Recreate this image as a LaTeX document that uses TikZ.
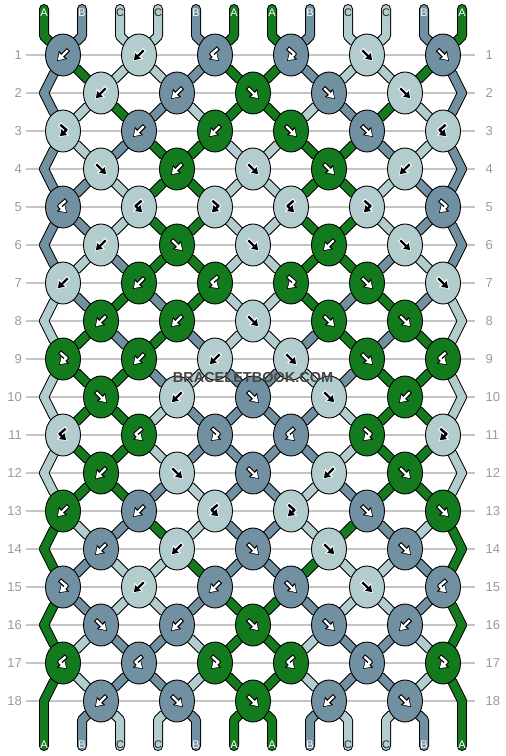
\documentclass[tikz,border=0pt]{standalone}
\usepackage{fontspec}
\setmainfont{Liberation Sans}
\usetikzlibrary{shapes.geometric,arrows.meta}

\definecolor{colA}{HTML}{137A1D}
\definecolor{colB}{HTML}{7190A1}
\definecolor{colC}{HTML}{B3CDCE}
\colorlet{fgA}{white}\colorlet{fgB}{white}\colorlet{fgC}{black}
\colorlet{rimA}{black}\colorlet{rimB}{black}\colorlet{rimC}{white}
\colorlet{txtA}{white}\colorlet{txtB}{white}\colorlet{txtC}{black!85}
\definecolor{rulegray}{HTML}{C4C4C4}
\definecolor{numgray}{HTML}{9A9A9A}
\definecolor{brandgray}{HTML}{464646}

\pgfdeclarelayer{back}
\pgfdeclarelayer{strands}
\pgfsetlayers{back,strands,main}

% knot symbols
\newcommand\turnf{(-5.5,-5.5) -- (6,6)}
\newcommand\turnb{(5.5,-5.5) -- (-6,6)}
\newcommand\turnfb{(3.5,-7) -- (-3.5,-1) -- (4,6)}
\newcommand\turnbf{(-3.5,-7) -- (3.5,-1) -- (-4,6)}

% every strand, row by row
\newcommand\drawstrands[1]{%
  \foreach \c [count=\p] in {A,B,C,C,B,A,A,B,C,C,B,A}
    \draw[#1=\c] (t-\p) -- ++(0,27) -- (p-1-\p);
  \foreach \rr/\strs in {
      1/{B,A,C,C,B,A,A,B,C,C,A,B},  2/{B,C,A,B,C,A,A,C,B,A,C,B},
      3/{B,C,B,A,A,C,C,A,A,B,C,B},  4/{B,B,C,A,A,C,C,A,A,C,B,B},
      5/{B,B,C,A,A,C,C,A,A,C,B,B},  6/{B,C,B,A,A,C,C,A,A,B,C,B},
      7/{C,B,A,B,A,C,C,A,B,A,B,C},  8/{C,A,B,A,B,C,C,B,A,B,A,C},
      9/{C,A,A,B,C,B,B,C,B,A,A,C}, 10/{C,A,A,C,B,B,B,B,C,A,A,C},
     11/{C,A,A,C,B,B,B,B,C,A,A,C}, 12/{C,A,A,B,C,B,B,C,B,A,A,C},
     13/{A,C,B,A,C,B,B,C,A,B,C,A}, 14/{A,B,C,C,A,B,B,A,C,C,B,A},
     15/{A,B,C,C,B,A,A,B,C,C,B,A}, 16/{A,C,B,B,C,A,A,C,B,B,C,A},
     17/{A,C,B,B,C,A,A,C,B,B,C,A}}{
    \pgfmathtruncatemacro\rn{\rr+1}
    \foreach \c [count=\p] in \strs
      \draw[#1=\c] (p-\rr-\p) -- (p-\rn-\p);
  }
  \foreach \c [count=\p] in {A,B,C,C,B,A,A,B,C,C,B,A}
    \draw[#1=\c] (b-\p) -- ++(0,-26) -- (p-18-\p);
}

\tikzset{
  knot/.style={ellipse, draw=black, line width=0.9pt, fill=col#1,
    minimum width=35pt, minimum height=42pt, inner sep=0pt},
  arrow rim/.style={draw=rim#1, line width=4.6pt, line join=round,
    -{Triangle[length=8.5pt,width=11pt]}},
  arrow core/.style={draw=fg#1, line width=2.4pt, line join=round,
    shorten <=1.1pt, shorten >=1.2pt, -{Triangle[length=6pt,width=7.6pt]}},
  strand rim/.style={draw=black, line width=10pt, line cap=round, line join=round},
  strand core/.style={draw=col#1, line width=8pt, line cap=round, line join=round},
  lbl/.style={text=txt#1, font=\fontsize{11}{11}\selectfont, inner sep=0pt},
  rownum/.style={text=numgray, font=\fontsize{13}{13}\selectfont, inner ysep=0pt},
  rowline/.style={draw=rulegray, line width=1.3pt},
  brand/.style={text=brandgray, font=\fontsize{14.5}{14.5}\selectfont\bfseries,
    inner sep=1pt}
}

\begin{document}
\begin{tikzpicture}[x=1pt,y=-1pt]
  \useasboundingbox (0,0) rectangle (506,756);

  % row rules and numbers
  \begin{pgfonlayer}{back}
    \foreach \rr in {1,...,18}{
      \pgfmathsetmacro\y{55+38*(\rr-1)}
      \node[rownum, anchor=east, inner xsep=4pt] (nl-\rr) at (26,\y) {\rr};
      \node[rownum, anchor=west, inner xsep=10.5pt] (nr-\rr) at (475,\y) {\rr};
      \draw[rowline] (nl-\rr) -- (nr-\rr);
    }
  \end{pgfonlayer}

  % strand ends
  \foreach \c [count=\p] in {A,B,C,C,B,A,A,B,C,C,B,A}{
    \pgfmathsetmacro\x{44+38*(\p-1)}
    \coordinate (t-\p) at (\x,9);
    \coordinate (b-\p) at (\x,746);
    \node[lbl=\c] (lt-\p) at (\x,12.5) {\c};
    \node[lbl=\c] (lb-\p) at (\x,744.5) {\c};
  }

  % knots: colour/type
  \foreach \rr/\row in {
      1/{B/b,C/b,B/fb,B/bf,C/f,B/f},    2/{C/b,B/b,A/f,B/f,C/f},
      3/{C/bf,B/b,A/b,A/f,B/f,C/fb},    4/{C/f,A/b,C/f,A/f,C/b},
      5/{B/fb,C/fb,C/bf,C/fb,C/bf,B/bf}, 6/{C/b,A/f,C/f,A/b,C/f},
      7/{C/b,A/b,A/fb,A/bf,A/f,C/f},    8/{A/b,A/b,C/f,A/f,A/f},
      9/{A/bf,A/b,C/b,C/f,A/f,A/fb},   10/{A/f,C/b,B/f,C/f,A/b},
     11/{C/fb,A/fb,B/bf,B/fb,A/bf,C/bf}, 12/{A/b,C/f,B/f,C/b,A/f},
     13/{A/b,B/b,C/fb,C/bf,B/f,A/f},   14/{B/b,C/b,B/f,C/f,B/f},
     15/{B/bf,C/b,B/b,B/f,C/f,B/fb},   16/{B/f,B/b,A/f,B/f,B/b},
     17/{A/fb,B/fb,A/bf,A/fb,B/bf,A/bf}, 18/{B/b,B/f,A/f,B/b,B/f}}{
    \pgfmathtruncatemacro\ev{1-mod(\rr,2)}
    \pgfmathsetmacro\y{55+38*(\rr-1)}
    \foreach \kc/\kt [count=\j] in \row {
      \pgfmathtruncatemacro\pa{2*\j-1+\ev}
      \pgfmathtruncatemacro\pb{\pa+1}
      \pgfmathsetmacro\x{63+38*(\pa-1)}
      \node[knot=\kc, alias=p-\rr-\pa, alias=p-\rr-\pb] (k-\rr-\j) at (\x,\y) {};
      \expandafter\let\expandafter\turn\csname turn\kt\endcsname
      \draw[arrow rim=\kc, shift={(\x,\y)}] \turn;
      \draw[arrow core=\kc, shift={(\x,\y)}] \turn;
    }
    \ifnum\ev=1
      \coordinate (p-\rr-1) at (44,\y);
      \coordinate (p-\rr-12) at (462,\y);
    \fi
  }

  \begin{pgfonlayer}{strands}
    \drawstrands{strand rim}
    \drawstrands{strand core}
  \end{pgfonlayer}

  \node[brand] (logo) at (253,378) {BRACELETBOOK.COM};
\end{tikzpicture}
\end{document}
